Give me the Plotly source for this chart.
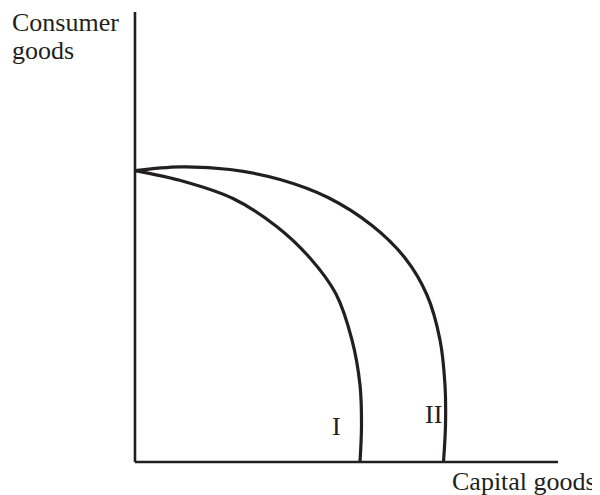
import plotly.graph_objects as go

# production possibility frontiers, arbitrary units (capital goods, consumer goods)
capI_x = [0, 16.33, 32.67, 47.0, 58.33, 67.0, 72.33, 75.0, 75.5, 75.0]
conI_y = [97.1, 93.5, 87.83, 78.67, 68.0, 56.0, 40.67, 25.67, 12.33, 0]

capII_x = [0, 15.0, 31.67, 48.33, 64.33, 79.0, 90.0, 97.33, 101.67, 103.33, 103.5, 102.83]
conII_y = [97.1, 98.37, 97.5, 94.17, 88.17, 78.83, 68.0, 55.67, 40.67, 25.67, 12.33, 0]

curve_labels = ["I", "II"]
label_pos = [(67.3, 11.8), (99.4, 15.7)]

x_axis_end = 141
y_axis_end = 150

ink = "#231f20"
serif = "Liberation Serif, Times New Roman, serif"

fig = go.Figure()
for xs, ys in [(capI_x, conI_y), (capII_x, conII_y)]:
    fig.add_trace(go.Scatter(x=xs, y=ys, mode="lines",
                             line=dict(color=ink, width=3.2, shape="spline", smoothing=1.0),
                             hoverinfo="skip"))

# axes
fig.add_shape(type="line", x0=0, y0=0, x1=0, y1=y_axis_end, line=dict(color=ink, width=2.6))
fig.add_shape(type="line", x0=0, y0=0, x1=x_axis_end, y1=0, line=dict(color=ink, width=2.6))

for lab, (lx, ly) in zip(curve_labels, label_pos):
    fig.add_annotation(x=lx, y=ly, text=lab, showarrow=False,
                       font=dict(family=serif, size=26, color=ink))

fig.add_annotation(x=-41.5, y=146.5, text="Consumer", showarrow=False, xanchor="left",
                   font=dict(family=serif, size=26, color=ink))
fig.add_annotation(x=-41.5, y=137, text="goods", showarrow=False, xanchor="left",
                   font=dict(family=serif, size=26, color=ink))
fig.add_annotation(x=129.8, y=-6.6, text="Capital goods", showarrow=False,
                   font=dict(family=serif, size=26, color=ink))

# page body has an 8px margin, so the figure is a little smaller than the window
fig.update_layout(
    width=592, height=487,
    margin=dict(l=0, r=0, t=0, b=0),
    paper_bgcolor="white", plot_bgcolor="white",
    showlegend=False,
    xaxis=dict(range=[-42.33, 155], visible=False, fixedrange=True),
    yaxis=dict(range=[-11, 151.33], visible=False, fixedrange=True),
)

fig.write_html("out.html")
